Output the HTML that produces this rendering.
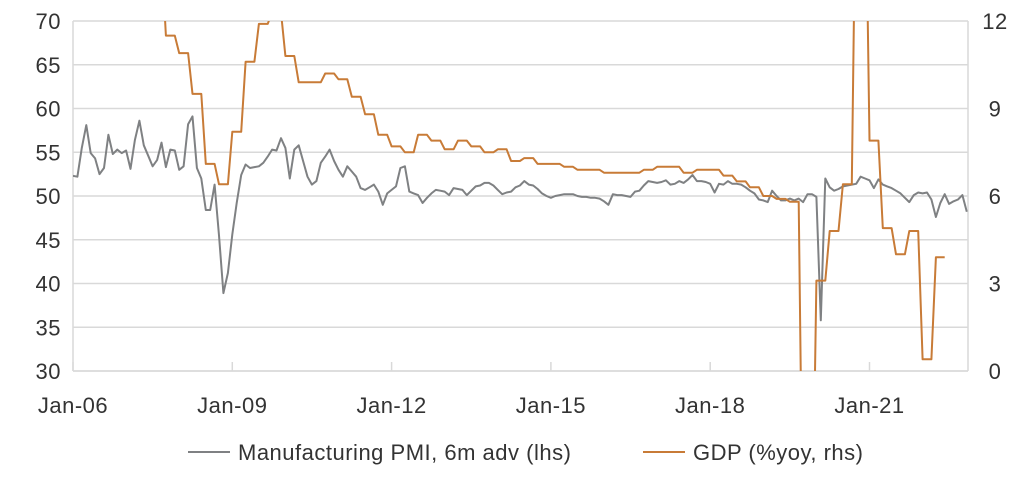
<!DOCTYPE html>
<html><head><meta charset="utf-8"><style>
html,body{margin:0;padding:0;background:#fff;width:1036px;height:484px;overflow:hidden}
svg{display:block;font-family:"Liberation Sans",sans-serif;overflow:hidden}
</style></head><body>
<svg id="chart" width="1036" height="484" viewBox="0 0 1036 484">
<defs><clipPath id="plotclip"><rect x="73" y="21" width="895" height="350"/></clipPath></defs>
<g id="grid"></g>
<g id="axes"></g>
<g clip-path="url(#plotclip)">
<path id="pmiLine" fill="none" stroke="#7f8183" stroke-width="2" stroke-linejoin="round"/>
<path id="gdpLine" fill="none" stroke="#c87b37" stroke-width="2" stroke-linejoin="round"/>
</g>
<g>
<line x1="188" y1="452" x2="230" y2="452" stroke="#7f8183" stroke-width="2"/>
<text x="238" y="460" font-size="22" letter-spacing="0.5" fill="#333">Manufacturing PMI, 6m adv (lhs)</text>
<line x1="643" y1="452" x2="685" y2="452" stroke="#c87b37" stroke-width="2"/>
<text x="693" y="460" font-size="22" letter-spacing="0.5" fill="#333">GDP (%yoy, rhs)</text>
</g>
</svg>
<script>
const pmi = [52.3,52.2,55.5,58.1,54.9,54.3,52.5,53.2,57.0,54.8,
55.3,54.9,55.2,53.1,56.4,58.6,55.8,54.6,53.4,54.1,
56.1,53.3,55.3,55.2,53.0,53.4,58.2,59.1,53.2,52.0,
48.4,48.4,51.3,45.5,38.9,41.2,45.6,49.2,52.4,53.6,
53.2,53.3,53.4,53.8,54.5,55.3,55.2,56.6,55.5,52.0,
55.3,55.8,54.0,52.2,51.3,51.7,53.8,54.5,55.3,54.0,
53.0,52.2,53.4,52.8,52.2,50.9,50.7,51.0,51.3,50.5,
49.0,50.3,50.7,51.1,53.2,53.4,50.5,50.3,50.1,49.2,
49.8,50.3,50.7,50.6,50.5,50.1,50.9,50.8,50.7,50.1,
50.6,51.1,51.2,51.5,51.5,51.2,50.7,50.2,50.4,50.5,
51.0,51.2,51.7,51.3,51.2,50.8,50.3,50.0,49.8,50.0,
50.1,50.2,50.2,50.2,50.0,49.9,49.9,49.8,49.8,49.7,
49.4,49.0,50.2,50.1,50.1,50.0,49.9,50.5,50.6,51.2,
51.7,51.6,51.5,51.6,51.8,51.3,51.4,51.7,51.5,51.9,
52.4,51.7,51.7,51.6,51.4,50.4,51.4,51.3,51.7,51.4,
51.4,51.3,51.0,50.6,50.3,49.6,49.5,49.3,50.6,50.0,
49.5,49.5,49.7,49.5,49.7,49.3,50.2,50.2,49.9,35.8,
52.0,51.0,50.6,50.8,51.1,51.2,51.3,51.4,52.2,52.0,
51.8,50.9,51.9,51.3,51.1,50.9,50.6,50.3,49.8,49.3,
50.1,50.4,50.3,50.4,49.6,47.6,49.2,50.2,49.1,49.4,
49.6,50.1,48.2];
const gdpQuarterly = [12.5,13.7,13.1,13.0,13.8,15.0,14.3,11.5,10.9,9.5,
7.1,6.4,8.2,10.6,11.9,12.3,10.8,9.9,9.9,10.2,
10.0,9.4,8.8,8.1,7.7,7.5,8.1,7.9,7.6,7.9,
7.7,7.5,7.6,7.2,7.3,7.1,7.1,7.0,6.9,6.9,
6.8,6.8,6.8,6.9,7.0,7.0,6.8,6.9,6.9,6.7,
6.5,6.3,6.0,5.9,5.8,-6.8,3.1,4.8,6.4,18.3,
7.9,4.9,4.0,4.8,0.4,3.9];
const leftTicks = [30,35,40,45,50,55,60,65,70];
const rightTicks = [0,3,6,9,12];
const xLabels = ["Jan-06","Jan-09","Jan-12","Jan-15","Jan-18","Jan-21"];
const xLabelMonths = [0,36,72,108,144,180];

const X0=73, STEP=4.425, TOP=21, BOT=371, RIGHT=968;
const xS = i => X0 + i*STEP;
const yL = v => TOP + (70-v)*(BOT-TOP)/40;
const yR = v => BOT - v*(BOT-TOP)/12;
const NS="http://www.w3.org/2000/svg";
function mk(tag, attrs, parent){const e=document.createElementNS(NS,tag);for(const k in attrs)e.setAttribute(k,attrs[k]);parent.appendChild(e);return e;}
const grid=document.getElementById('grid'), axes=document.getElementById('axes');
leftTicks.forEach(t=>{
  const g=mk('line',{x1:X0,x2:RIGHT,y1:yL(t),y2:yL(t),stroke:'#d9d9d9','stroke-width':1.5},grid);
  
  
  const l=mk('text',{x:61,y:yL(t)+8,'text-anchor':'end','font-size':22,'letter-spacing':0.5,fill:'#333'},axes);
  l.textContent=t;
  
  
});
rightTicks.forEach(t=>{
  const l=mk('text',{x:995,y:yR(t)+8,'text-anchor':'middle','font-size':22,'letter-spacing':0.5,fill:'#333'},axes);
  l.textContent=t;
  
  
});
const la=mk('line',{x1:X0,x2:X0,y1:TOP,y2:BOT,stroke:'#d9d9d9','stroke-width':1.5},axes);


const ra=mk('line',{x1:RIGHT,x2:RIGHT,y1:TOP,y2:BOT,stroke:'#d9d9d9','stroke-width':1.5},axes);


const ba=mk('line',{x1:X0,x2:RIGHT,y1:BOT,y2:BOT,stroke:'#d9d9d9','stroke-width':1.5},axes);


xLabels.forEach((s,i)=>{
  const x=xS(xLabelMonths[i]);
  const tk=mk('line',{x1:x,x2:x,y1:BOT-9,y2:BOT,stroke:'#d9d9d9','stroke-width':1.5},axes);
  
  
  const l=mk('text',{x:x,y:413,'text-anchor':'middle','font-size':22,'letter-spacing':0.5,fill:'#333'},axes);
  l.textContent=s;
  
  
});
document.getElementById('pmiLine').setAttribute('d', pmi.map((v,i)=>(i?'L':'M')+xS(i).toFixed(1)+' '+yL(v).toFixed(1)).join(''));
const gdpMonthly=[];
gdpQuarterly.forEach(v=>{gdpMonthly.push(v,v,v);});
document.getElementById('gdpLine').setAttribute('d', gdpMonthly.map((v,i)=>(i?'L':'M')+xS(i).toFixed(1)+' '+yR(v).toFixed(1)).join(''));
</script>
</body></html>
